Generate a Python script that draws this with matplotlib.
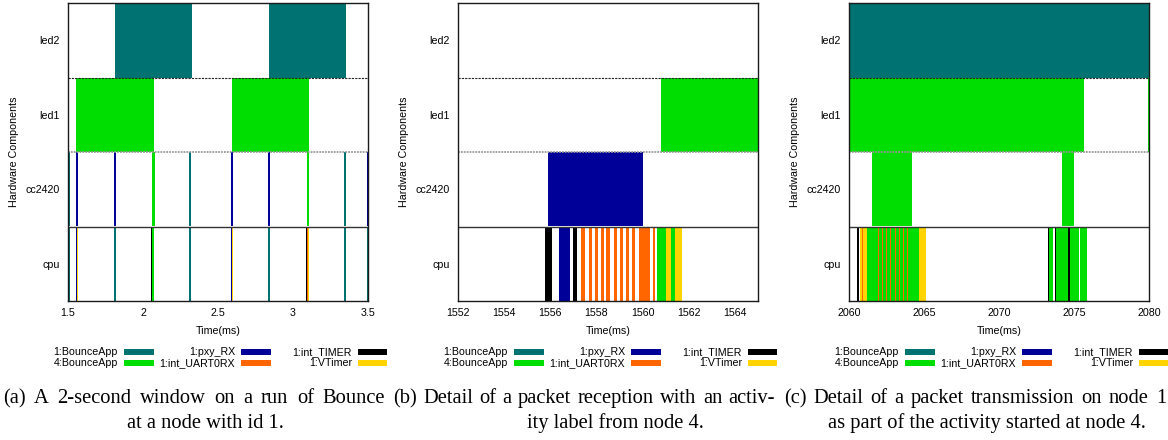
import matplotlib
matplotlib.use('Agg')
import matplotlib.pyplot as plt
from matplotlib.patches import Rectangle

W, H = 1168, 440
SANS = ['Liberation Sans', 'DejaVu Sans']
SERIF = ['Liberation Serif', 'DejaVu Serif']
plt.rcParams['font.family'] = SANS

# rows from bottom to top
rows = ['cpu', 'cc2420', 'led1', 'led2']

# activity labels and colours
act_keys = ['B1', 'B4', 'RX', 'UART', 'TIMER', 'VT']
act_labels = ['1:BounceApp', '4:BounceApp', '1:pxy_RX', '1:int_UART0RX', '1:int_TIMER', '1:VTimer']
act_colors = ['#007272', '#00dd00', '#000099', '#ff6600', '#000000', '#ffd400']
color_of = dict(zip(act_keys, act_colors))

# ---- panel (a): 2-second window ----
a_led2 = [('B1', 1.813, 2.325), ('B1', 2.838, 3.351)]
a_led1 = [('B4', 1.555, 2.075), ('B4', 2.593, 3.107)]
a_cc2420 = [('B1', 1.500, 1.510), ('RX', 1.551, 1.564), ('RX', 1.804, 1.817),
            ('B4', 2.057, 2.078), ('B1', 2.309, 2.323), ('RX', 2.587, 2.600),
            ('RX', 2.833, 2.846), ('B4', 3.091, 3.106), ('B1', 3.340, 3.353),
            ('RX', 3.490, 3.500)]
a_cpu = [('B1', 1.500, 1.510), ('RX', 1.551, 1.560), ('VT', 1.560, 1.566),
         ('B1', 1.804, 1.817), ('TIMER', 2.052, 2.062), ('B4', 2.062, 2.076),
         ('B1', 2.309, 2.323), ('RX', 2.587, 2.596), ('VT', 2.596, 2.601),
         ('B1', 2.833, 2.846), ('TIMER', 3.088, 3.096), ('UART', 3.096, 3.100),
         ('VT', 3.100, 3.106), ('B1', 3.340, 3.354), ('B1', 3.490, 3.500)]
a_xlim = (1.5, 3.5)
a_ticks = [1.5, 2.0, 2.5, 3.0, 3.5]
a_ticklabels = ['1.5', '2', '2.5', '3', '3.5']

# ---- panel (b): packet reception ----
b_led2 = []
b_led1 = [('B4', 1560.79, 1565.0)]
b_cc2420 = [('RX', 1555.90, 1560.02)]
b_cpu = [('TIMER', 1555.78, 1556.07), ('RX', 1556.37, 1556.87), ('TIMER', 1557.00, 1557.15),
         ('UART', 1557.32, 1557.49), ('UART', 1557.66, 1557.79), ('UART', 1557.93, 1558.06),
         ('UART', 1558.19, 1558.31), ('UART', 1558.43, 1558.57), ('UART', 1558.77, 1558.88),
         ('UART', 1559.03, 1559.16), ('UART', 1559.30, 1559.40), ('UART', 1559.53, 1559.66),
         ('UART', 1559.85, 1560.31), ('UART', 1560.47, 1560.54), ('B4', 1560.64, 1561.03),
         ('VT', 1561.03, 1561.25), ('B4', 1561.25, 1561.39), ('VT', 1561.39, 1561.72)]
b_xlim = (1552, 1565)
b_ticks = [1552, 1554, 1556, 1558, 1560, 1562, 1564]
b_ticklabels = [str(t) for t in b_ticks]

# ---- panel (c): packet transmission ----
c_led2 = [('B1', 2060.0, 2080.0)]
c_led1 = [('B4', 2060.0, 2075.67), ('B4', 2079.9, 2080.0)]
c_cc2420 = [('B4', 2061.53, 2064.20), ('B4', 2074.18, 2074.98)]
c_cpu = [('TIMER', 2060.56, 2060.69), ('VT', 2060.73, 2060.89), ('UART', 2060.89, 2060.94),
         ('VT', 2060.94, 2061.20), ('B4', 2061.20, 2064.64),
         ('UART', 2061.93, 2062.00), ('UART', 2062.19, 2062.26), ('UART', 2062.48, 2062.55),
         ('UART', 2062.75, 2062.82), ('UART', 2063.04, 2063.11), ('UART', 2063.30, 2063.37),
         ('UART', 2063.59, 2063.66), ('UART', 2063.86, 2063.93),
         ('VT', 2064.64, 2065.16), ('TIMER', 2073.26, 2073.33), ('B4', 2073.33, 2073.62),
         ('TIMER', 2073.73, 2073.79), ('B4', 2073.79, 2074.62), ('TIMER', 2074.63, 2074.71),
         ('B4', 2074.71, 2075.33), ('B4', 2075.40, 2075.87)]
c_xlim = (2060, 2080)
c_ticks = [2060, 2065, 2070, 2075, 2080]
c_ticklabels = [str(t) for t in c_ticks]

captions = [
    ("(a) A 2-second window on a run of Bounce", "at a node with id 1.", 127),
    ("(b) Detail of a packet reception with an activ-", "ity label from node 4.", 137),
    ("(c) Detail of a packet transmission on node 1", "as part of the activity started at node 4.", 47),
]

panels = [
    ([a_cpu, a_cc2420, a_led1, a_led2], a_xlim, a_ticks, a_ticklabels),
    ([b_cpu, b_cc2420, b_led1, b_led2], b_xlim, b_ticks, b_ticklabels),
    ([c_cpu, c_cc2420, c_led1, c_led2], c_xlim, c_ticks, c_ticklabels),
]

FS = 7.7
CAP_FS = 14.8
offsets = [0, 390, 781]

fig = plt.figure(figsize=(W / 100, H / 100), dpi=100)


def fx(x):
    return x / W


def fy(y):
    return 1 - y / H


for (row_data, xlim, ticks, ticklabels), ox in zip(panels, offsets):
    ax = fig.add_axes([fx(ox + 68), fy(301), 300 / W, 298 / H])
    for i, segs in enumerate(row_data):
        for key, t0, t1 in segs:
            ax.barh(i, t1 - t0, left=t0, height=1.0, color=color_of[key], linewidth=0)
    ax.axhline(2.5, color='#222222', lw=0.8, ls=(0, (2, 1)))
    ax.axhline(1.5, color='#999999', lw=1.3, ls=(0, (1, 0.6)))
    ax.axhline(0.5, color='#333333', lw=1.0)
    ax.set_xlim(*xlim)
    ax.set_ylim(-0.5, 3.5)
    ax.set_yticks(range(len(rows)))
    ax.set_yticklabels(rows, fontsize=FS)
    ax.set_xticks(ticks)
    ax.set_xticklabels(ticklabels, fontsize=FS)
    ax.tick_params(axis='both', length=0)
    ax.tick_params(axis='y', pad=6)
    ax.tick_params(axis='x', pad=5)
    for s in ax.spines.values():
        s.set_color('#1a1a1a')
        s.set_linewidth(1.0)
    fig.text(fx(ox + 14), fy(152), 'Hardware Components', rotation=90,
             ha='center', va='center', fontsize=FS)
    fig.text(fx(ox + 218), fy(331), 'Time(ms)', ha='center', va='center', fontsize=FS)

    # legend, gnuplot style: label right-aligned then swatch
    for j, (lab, col) in enumerate(zip(act_labels, act_colors)):
        c, r = j // 2, j % 2
        ycen = 352 + 11 * r
        xr = ox + 118 + 117 * c
        fig.text(fx(xr), fy(ycen), lab, ha='right', va='center', fontsize=FS)
        sw = 30 if c < 2 else 29
        fig.add_artist(Rectangle((fx(xr + 6), fy(ycen + 3)), sw / W, 6 / H,
                                 transform=fig.transFigure, facecolor=col, edgecolor='none'))

# captions, first line justified across the subfigure width
renderer = fig.canvas.get_renderer()
for (line1, line2, x2), ox in zip(captions, offsets):
    words = line1.split()
    arts = [fig.text(0, fy(403), w, fontsize=CAP_FS, family=SERIF, va='baseline')
            for w in words]
    widths = [a.get_window_extent(renderer).width for a in arts]
    gap = (382 - sum(widths)) / (len(words) - 1)
    x = ox + 3
    for a, w in zip(arts, widths):
        a.set_x(fx(x))
        x += w + gap
    fig.text(fx(ox + x2), fy(428), line2, fontsize=CAP_FS, family=SERIF, va='baseline')

fig.savefig('out.png', dpi=100)
